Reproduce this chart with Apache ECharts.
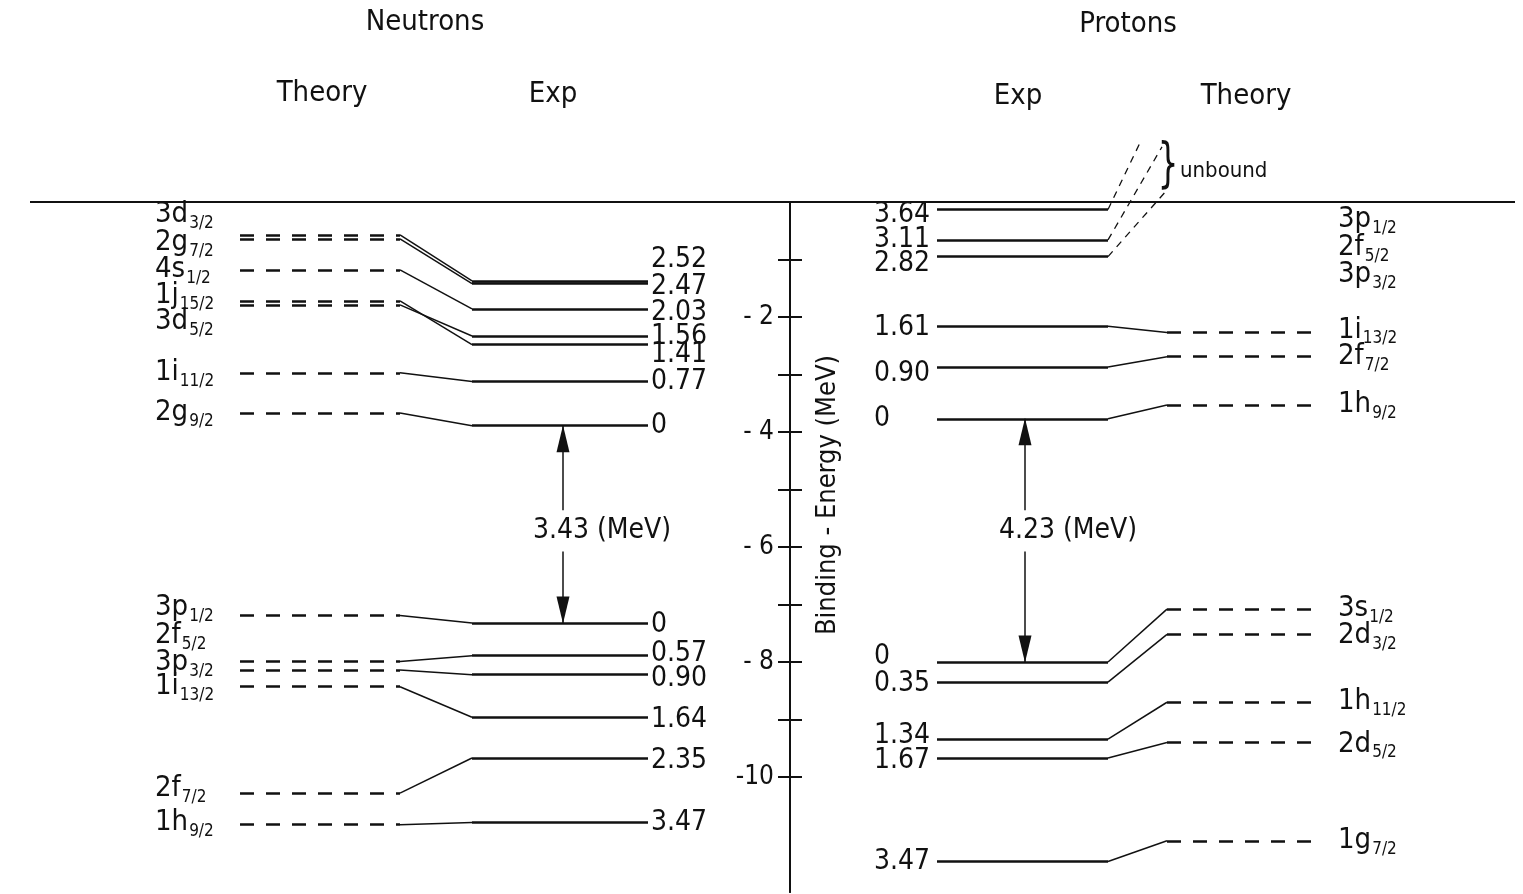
<!DOCTYPE html>
<html>
<head>
<meta charset="utf-8">
<title>Single-particle levels around 208Pb</title>
<script src="https://cdn.jsdelivr.net/npm/echarts@6/dist/echarts.min.js"></script>
<style>
  html, body { margin: 0; padding: 0; background: #fff; }
  #chart { width: 1523px; height: 894px; }
</style>
</head>
<body>
<div id="chart"></div>
<script>
// ---- level data (binding energies in MeV, measured excitation energies in MeV) ----
const neutronParticleOrbits = ['3d3/2', '2g7/2', '4s1/2', '1j15/2', '3d5/2', '1i11/2', '2g9/2'];
const neutronParticleTheory = [-0.57, -0.64, -1.18, -1.72, -1.79, -2.97, -3.67];
const neutronParticleExp    = [2.52, 2.47, 2.03, 1.41, 1.56, 0.77, 0];
const neutronHoleOrbits     = ['3p1/2', '2f5/2', '3p3/2', '1i13/2', '2f7/2', '1h9/2'];
const neutronHoleTheory     = [-7.19, -7.99, -8.14, -8.43, -10.28, -10.83];
const neutronHoleExp        = [0, 0.57, 0.90, 1.64, 2.35, 3.47];
const neutronGroundBinding  = -3.89;
const neutronGap            = 3.43;

const protonParticleOrbits  = ['3p1/2', '2f5/2', '3p3/2', '1i13/2', '2f7/2', '1h9/2'];
const protonParticleTheory  = [1.03, 0.96, 0.17, -2.27, -2.69, -3.53];
const protonParticleExp     = [3.64, 3.11, 2.82, 1.61, 0.90, 0];
const protonHoleOrbits      = ['3s1/2', '2d3/2', '1h11/2', '2d5/2', '1g7/2'];
const protonHoleTheory      = [-7.08, -7.52, -8.70, -9.40, -11.11];
const protonHoleExp         = [0, 0.35, 1.34, 1.67, 3.47];
const protonGroundBinding   = -3.77;
const protonGap             = 4.23;

const energyTicks       = [-1, -2, -3, -4, -5, -6, -7, -8, -9, -10];
const energyTickLabels  = [-2, -4, -6, -8, -10];

// ---- layout: horizontal positions in pixels measured from the energy axis ----
const AXIS_X = 790;
const WIDTH = 1523;
const X = {
  zero: [-760, 725],
  nTheory: [-550, -390], nExp: [-318, -142], nExpLabel: -139, nTheoryLabel: -635,
  pExp: [147, 318], pTheory: [377, 532], pExpLabel: 84, pTheoryLabel: 548,
  nArrow: -227, pArrow: 235, nGapLabel: -188, pGapLabel: 278
};
const unboundReach = [350, 372, 375];
const gapLabelE = -5.72;
const gapHalf = 0.36;

// vertical label nudges (px) where neighbouring levels crowd together
const nParticleTheoryDy = [-20, 4, 0, -5, 17, 0, 0];
const nParticleExpDy    = [-21, 3, 4, 10, 1, 0, 0];
const nHoleTheoryDy     = [-7, -25, -7, 0, -4, -2];
const nHoleExpDy        = [2, -2, 4, 3, 3, 0];
const pParticleTheoryDy = [77, 101, 83, -2, 0, 0];
const pParticleExpDy    = [5, 0, 7, 2, 7, 0];
const pHoleTheoryDy     = [0, 2, 0, 2, 0];
const pHoleExpDy        = [-5, 2, -3, 3, 0];

const FONT = "'DejaVu Sans Condensed', 'Liberation Sans Narrow', 'DejaVu Sans', sans-serif";
const INK = '#111111';

const fmtExc = v => (v === 0 ? '0' : v.toFixed(2));

// ---- build the geometry from the data ----
const levelSolid = [], levelDashed = [], slants = [], unbound = [], shafts = [];
const orbitLabels = [], valueLabels = [], arrowHeads = [], gapLabels = [];

function neutronBlock(orbits, theory, exc, ground, sign, thDy, exDy) {
  orbits.forEach((o, i) => {
    const th = theory[i];
    const ex = ground + sign * exc[i];
    levelDashed.push({ coords: [[X.nTheory[0], th], [X.nTheory[1], th]] });
    slants.push({ coords: [[X.nTheory[1], th], [X.nExp[0], ex]] });
    levelSolid.push({ coords: [[X.nExp[0], ex], [X.nExp[1], ex]] });
    orbitLabels.push({ name: o, value: [X.nTheoryLabel, th], label: { offset: [0, thDy[i]] } });
    valueLabels.push({ name: fmtExc(exc[i]), value: [X.nExpLabel, ex], label: { offset: [0, exDy[i]] } });
  });
}

function protonBlock(orbits, theory, exc, ground, sign, thDy, exDy) {
  orbits.forEach((o, i) => {
    const th = theory[i];
    const ex = ground + sign * exc[i];
    levelSolid.push({ coords: [[X.pExp[0], ex], [X.pExp[1], ex]] });
    if (th > 0) {
      unbound.push({ coords: [[X.pExp[1], ex], [unboundReach[i], th]] });
    } else {
      slants.push({ coords: [[X.pExp[1], ex], [X.pTheory[0], th]] });
      levelDashed.push({ coords: [[X.pTheory[0], th], [X.pTheory[1], th]] });
    }
    orbitLabels.push({ name: o, value: [X.pTheoryLabel, th], label: { offset: [0, thDy[i]] } });
    valueLabels.push({ name: fmtExc(exc[i]), value: [X.pExpLabel, ex], label: { offset: [0, exDy[i]] } });
  });
}

const neutronHoleGround = neutronGroundBinding - neutronGap;
const protonHoleGround = protonGroundBinding - protonGap;

neutronBlock(neutronParticleOrbits, neutronParticleTheory, neutronParticleExp, neutronGroundBinding, 1, nParticleTheoryDy, nParticleExpDy);
neutronBlock(neutronHoleOrbits, neutronHoleTheory, neutronHoleExp, neutronHoleGround, -1, nHoleTheoryDy, nHoleExpDy);
protonBlock(protonParticleOrbits, protonParticleTheory, protonParticleExp, protonGroundBinding, 1, pParticleTheoryDy, pParticleExpDy);
protonBlock(protonHoleOrbits, protonHoleTheory, protonHoleExp, protonHoleGround, -1, pHoleTheoryDy, pHoleExpDy);

// shell gap arrows between the particle and hole ground states
[[X.nArrow, X.nGapLabel, neutronGroundBinding, neutronHoleGround, neutronGap],
 [X.pArrow, X.pGapLabel, protonGroundBinding, protonHoleGround, protonGap]].forEach(([x, lx, top, bottom, gap]) => {
  shafts.push({ coords: [[x, top], [x, gapLabelE + gapHalf]] });
  shafts.push({ coords: [[x, gapLabelE - gapHalf], [x, bottom]] });
  arrowHeads.push({ value: [x, top], symbol: 'path://M5,0L10,20L0,20Z', symbolOffset: [0, 13] });
  arrowHeads.push({ value: [x, bottom], symbol: 'path://M0,0L10,0L5,20Z', symbolOffset: [0, -13] });
  gapLabels.push({ name: gap.toFixed(2) + ' (MeV)', value: [lx, gapLabelE] });
});

// orbital name -> rich text with a lowered j subscript
function orbitalText(name) {
  const m = name.match(/^(\d[a-z])(\d+\/2)$/);
  return m ? '{m|' + m[1] + '}{s|' + m[2] + '}' : name;
}

function linesSeries(data, style) {
  return {
    type: 'lines', coordinateSystem: 'cartesian2d', polyline: false, silent: true, clip: false,
    data: data,
    lineStyle: Object.assign({ color: INK, opacity: 1, curveness: 0 }, style)
  };
}

function labelSeries(data, label) {
  return {
    type: 'scatter', silent: true, clip: false, symbolSize: 0,
    itemStyle: { opacity: 1, color: INK },
    data: data,
    label: Object.assign({ show: true, color: INK, opacity: 1, fontFamily: FONT }, label)
  };
}

const chart = echarts.init(document.getElementById('chart'), null, { renderer: 'canvas' });

// the energy axis sits on the grid's left edge; the left half of the scheme
// extends past that edge (negative x), drawn unclipped
const yAxisCommon = {
  type: 'value', min: -12, max: 0, interval: 2, position: 'left', offset: 0,
  splitLine: { show: false },
  axisLine: { show: true, onZero: false, lineStyle: { color: INK, width: 2 } }
};

chart.setOption({
  animation: false,
  backgroundColor: '#ffffff',
  textStyle: { fontFamily: FONT, color: INK },
  grid: { left: AXIS_X, right: 0, top: 202, bottom: 2, outerBoundsMode: 'none', containLabel: false },
  xAxis: { type: 'value', min: 0, max: WIDTH - AXIS_X, show: false },
  yAxis: [
    Object.assign({}, yAxisCommon, {
      axisTick: { show: true, inside: false, length: 12, customValues: energyTicks, lineStyle: { color: INK, width: 2 } },
      axisLabel: {
        show: true, margin: 16, showMinLabel: true, showMaxLabel: true,
        color: INK, fontSize: 26, fontFamily: FONT,
        formatter: v => (energyTickLabels.indexOf(v) < 0 ? '' : (v > -10 ? '- ' + (-v) : '-' + (-v)))
      }
    }),
    Object.assign({}, yAxisCommon, {
      axisTick: { show: true, inside: true, length: 12, customValues: energyTicks, lineStyle: { color: INK, width: 2 } },
      axisLabel: { show: false },
      name: 'Binding - Energy (MeV)',
      nameLocation: 'middle', nameRotate: 90, nameGap: -51,
      nameTextStyle: { fontSize: 27, fontFamily: FONT, color: INK, padding: [0, 0, 0, 104] }
    })
  ],
  graphic: [
    ['Neutrons', 425, 22], ['Protons', 1128, 24],
    ['Theory', 322, 93], ['Exp', 553, 94], ['Exp', 1018, 96], ['Theory', 1246, 96]
  ].map(([t, x, y]) => ({
    type: 'text', x: x, y: y, silent: true,
    style: { text: t, font: '29px ' + FONT, fill: INK, align: 'center', verticalAlign: 'middle', textAlign: 'center', textVerticalAlign: 'middle' }
  })).concat([
    { type: 'text', x: 1180, y: 171, silent: true,
      style: { text: 'unbound', font: '22px ' + FONT, fill: INK, align: 'left', verticalAlign: 'middle', textAlign: 'left', textVerticalAlign: 'middle' } },
    { type: 'text', x: 1168, y: 167, scaleY: 1.5, silent: true,
      style: { text: '}', font: '300 36px ' + FONT, fill: INK, align: 'center', verticalAlign: 'middle', textAlign: 'center', textVerticalAlign: 'middle' } }
  ]),
  series: [
    linesSeries([{ coords: [[X.zero[0], 0], [X.zero[1], 0]] }], { width: 2 }),
    linesSeries(levelSolid, { width: 2.7 }),
    linesSeries(levelDashed, { width: 2.6, type: [14, 12] }),
    linesSeries(slants, { width: 1.5 }),
    linesSeries(unbound, { width: 1.3, type: [7, 6] }),
    linesSeries(shafts, { width: 1.5 }),
    {
      type: 'scatter', silent: true, clip: false, symbolSize: [13, 27],
      itemStyle: { color: INK, opacity: 1 }, data: arrowHeads
    },
    labelSeries(orbitLabels, {
      position: 'right', distance: 0,
      formatter: p => orbitalText(p.name),
      rich: {
        m: { fontSize: 29, lineHeight: 30, verticalAlign: 'top', fontFamily: FONT, color: INK },
        s: { fontSize: 17, lineHeight: 17, verticalAlign: 'top', padding: [15, 0, 0, 1], fontFamily: FONT, color: INK }
      }
    }),
    labelSeries(valueLabels, { position: 'right', distance: 0, fontSize: 28, formatter: p => p.name }),
    labelSeries(gapLabels, { position: 'inside', fontSize: 28, formatter: p => p.name })
  ]
});
</script>
</body>
</html>
